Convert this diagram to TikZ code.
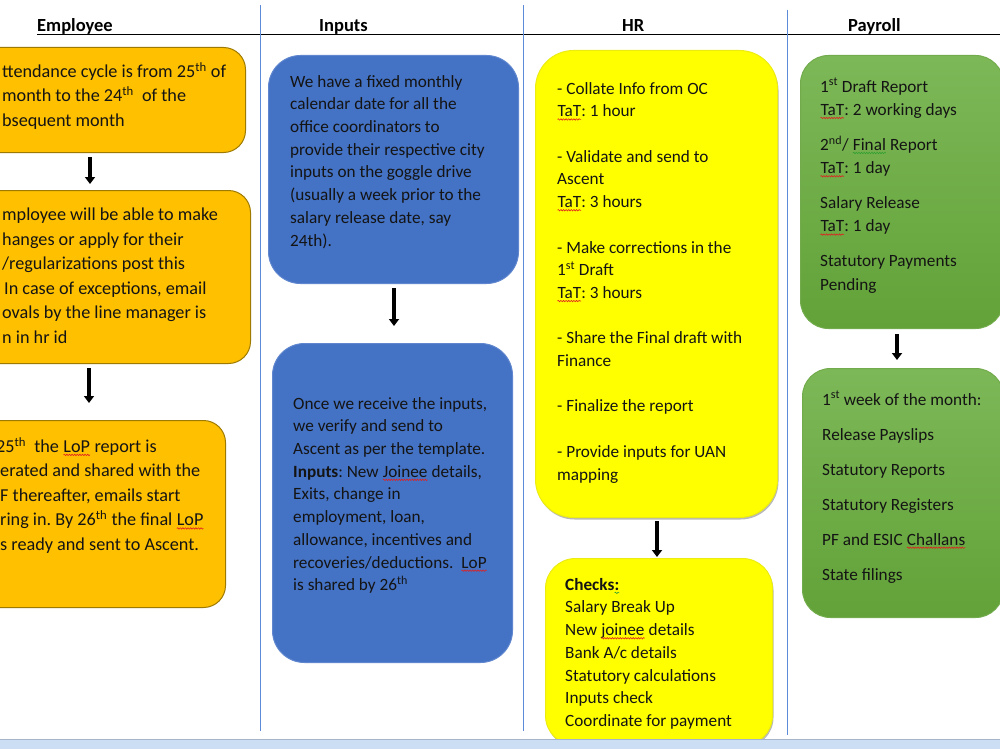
\documentclass[tikz,border=0pt]{standalone}
\usepackage{fontspec}
\setmainfont{Carlito}
\usetikzlibrary{arrows.meta,calc,decorations.pathmorphing}
\frenchspacing
\definecolor{orangeF}{HTML}{FFC000}
\definecolor{orangeD}{HTML}{9E7A00}
\definecolor{blueF}{HTML}{4472C4}
\definecolor{blueD}{HTML}{5F86CE}
\definecolor{yelF}{HTML}{FFFF00}
\definecolor{greenT}{HTML}{7DB858}
\definecolor{greenB}{HTML}{62A238}
\definecolor{lane}{HTML}{5B8BD9}
\definecolor{txt}{HTML}{141414}
\definecolor{bandF}{HTML}{CCDEF4}
\definecolor{bandL}{HTML}{A5B4C8}
\definecolor{spellR}{HTML}{E02020}
\definecolor{spellG}{HTML}{30A030}
\newcommand\wavyunder[2]{\tikz[baseline=(W.base)]{\node[inner sep=0pt,outer sep=0pt,anchor=base] (W) {#2};%
  \draw[#1,line width=0.6pt,decorate,decoration={snake,amplitude=0.7pt,segment length=2.6pt}] ([yshift=-2.6pt]W.base west) -- ([yshift=-2.6pt]W.base east);}}
\newcommand\spr[1]{\wavyunder{spellR}{#1}}
\newcommand\spg[1]{\wavyunder{spellG}{#1}}
\begin{document}
\begin{tikzpicture}[x=1pt,y=-1pt,
  boxbase/.style={rectangle,inner sep=0pt,anchor=north west,line width=1pt},
  empbox/.style={boxbase,fill=orangeF,draw=orangeD,rounded corners=22pt},
  inbox/.style={boxbase,fill=blueF,draw=blueD,rounded corners=32pt},
  hrbox/.style={boxbase,fill=yelF,draw=yelF!85!gray,rounded corners=38pt},
  shadowbox/.style={boxbase,fill=gray!55,draw=none},
  paybox/.style={boxbase,top color=greenT,bottom color=greenB,draw=greenB!90!white,rounded corners=28pt},
  txtnode/.style={anchor=north west,inner sep=0pt,align=left,text=txt},
  emptxt/.style={txtnode,font=\fontsize{18.2}{24.5}\selectfont},
  stdtxt/.style={txtnode,font=\fontsize{17.2}{22.7}\selectfont},
  head/.style={anchor=base west,inner sep=0pt,font=\fontsize{18.5}{20}\selectfont\bfseries,text=black},
  arr/.style={line width=3.2pt,-{Triangle[width=10pt,length=7pt]}},
  lanestyle/.style={lane,line width=0.8pt}]
\useasboundingbox (0,0) rectangle (1000,749);
\clip (0,0) rectangle (1000,749);
\fill[white] (0,0) rectangle (1000,749);

% swimlane lines
\draw[black,line width=0.9pt] (37,34.5) -- (1000,34.5);
\draw[lanestyle] (260,5) -- (260,731);
\draw[lanestyle] (523.5,5) -- (523.5,731);
\draw[lanestyle] (787.5,10) -- (787.5,735);

% headings
\node[head] (hEmp) at (37,32) {Employee};
\node[head] (hIn) at (319,32) {Inputs};
\node[head] (hHR) at (622,32) {HR};
\node[head] (hPay) at (848,32) {Payroll};

% Employee column
\node[empbox,minimum width=325pt,minimum height=105pt] (e1) at (-80,47) {};
\node[empbox,minimum width=330pt,minimum height=173pt] (e2) at (-80,190) {};
\node[empbox,minimum width=305pt,minimum height=187pt] (e3) at (-80,420) {};
\node[emptxt] (t1) at (2,62) {ttendance cycle is from 25\textsuperscript{th} of\\
month to the 24\textsuperscript{th}\ \ of the\\
bsequent month};
\node[emptxt] (t2) at (2,208) {mployee will be able to make\\
hanges or apply for their\\
/regularizations post this\\
\hspace{2pt}In case of exceptions, email\\
ovals by the line manager is\\
n in hr id};
\node[emptxt] (t3) at (-4,437) {25\textsuperscript{th}\ \ the \spr{LoP} report is\\
\hspace{4pt}erated and shared with the\\
\hspace{4pt}F thereafter, emails start\\
\hspace{4pt}ring in. By 26\textsuperscript{th}\ the final \spr{LoP}\\
\hspace{4pt}s ready and sent to Ascent.};

% Inputs column
\node[inbox,minimum width=250pt,minimum height=228pt] (i1) at (268,55) {};
\node[inbox,minimum width=240pt,minimum height=319pt] (i2) at (272,343) {};
\node[stdtxt] (t4) at (290,75) {We have a fixed monthly\\
calendar date for all the\\
office coordinators to\\
provide their respective city\\
inputs on the goggle drive\\
(usually a week prior to the\\
salary release date, say\\
24th).};
\node[stdtxt] (t5) at (293,397) {Once we receive the inputs,\\
we verify and send to\\
Ascent as per the template.\\
\textbf{Inputs}: New \spr{Joinee} details,\\
Exits, change in\\
employment, loan,\\
allowance, incentives and\\
recoveries/deductions.\ \ \spr{LoP}\\
is shared by 26\textsuperscript{th}};

% HR column
\node[shadowbox,rounded corners=38pt,minimum width=242pt,minimum height=467pt] (h1s) at (536,52) {};
\node[hrbox,minimum width=242pt,minimum height=467pt] (h1) at (535,50) {};
\node[shadowbox,rounded corners=30pt,minimum width=227pt,minimum height=187pt] (h2s) at (546,560) {};
\node[hrbox,rounded corners=30pt,minimum width=227pt,minimum height=187pt] (h2) at (545,558) {};
\node[stdtxt] (t6) at (557,82) {- Collate Info from OC\\
\spr{TaT}: 1 hour\\[22.7pt]
- Validate and send to\\
Ascent\\
\spr{TaT}: 3 hours\\[22.7pt]
- Make corrections in the\\
1\textsuperscript{st} Draft\\
\spr{TaT}: 3 hours\\[22.7pt]
- Share the Final draft with\\
Finance\\[22.7pt]
- Finalize the report\\[22.7pt]
- Provide inputs for UAN\\
mapping};
\node[stdtxt] (t7) at (565,578) {\textbf{Checks\spg{:}}\\
Salary Break Up\\
New \spr{joinee} details\\
Bank A/c details\\
Statutory calculations\\
Inputs check\\
Coordinate for payment};

% Payroll column
\node[paybox,minimum width=203pt,minimum height=273pt] (p1) at (800,55) {};
\node[paybox,minimum width=201pt,minimum height=249pt] (p2) at (802,368) {};
\node[txtnode,font=\fontsize{17.2}{23.3}\selectfont] (t8) at (820,78) {1\textsuperscript{st} Draft Report\\
\spr{TaT}: 2 working days\\[11.7pt]
2\textsuperscript{nd}/ \spg{Final} Report\\
\spr{TaT}: 1 day\\[11.7pt]
Salary Release\\
\spr{TaT}: 1 day\\[11.7pt]
Statutory Payments\\
Pending};
\node[txtnode,font=\fontsize{17.2}{35}\selectfont] (t9) at (822,391) {1\textsuperscript{st} week of the month:\\
Release Payslips\\
Statutory Reports\\
Statutory Registers\\
PF and ESIC \spr{Challans}\\
State filings};

% arrows
\coordinate (ax1) at (90,0);
\coordinate (ax2) at (89,0);
\coordinate (ax3) at (394,0);
\coordinate (ax4) at (657,0);
\coordinate (ax5) at (897,0);
\draw[arr,shorten <=4pt,shorten >=6pt] (e1.south -| ax1) -- (e2.north -| ax1);
\draw[arr,shorten <=4pt,shorten >=17pt] (e2.south -| ax2) -- (e3.north -| ax2);
\draw[arr,shorten <=4pt,shorten >=17pt] (i1.south -| ax3) -- (i2.north -| ax3);
\draw[arr,shorten <=3pt,shorten >=1pt] (h1.south -| ax4) -- (h2.north -| ax4);
\draw[arr,shorten <=5pt,shorten >=8pt] (p1.south -| ax5) -- (p2.north -| ax5);

% bottom band
\fill[bandF] (0,740) rectangle (1000,749);
\draw[bandL,line width=1pt] (0,739.5) -- (1000,739.5);
\end{tikzpicture}
\end{document}
